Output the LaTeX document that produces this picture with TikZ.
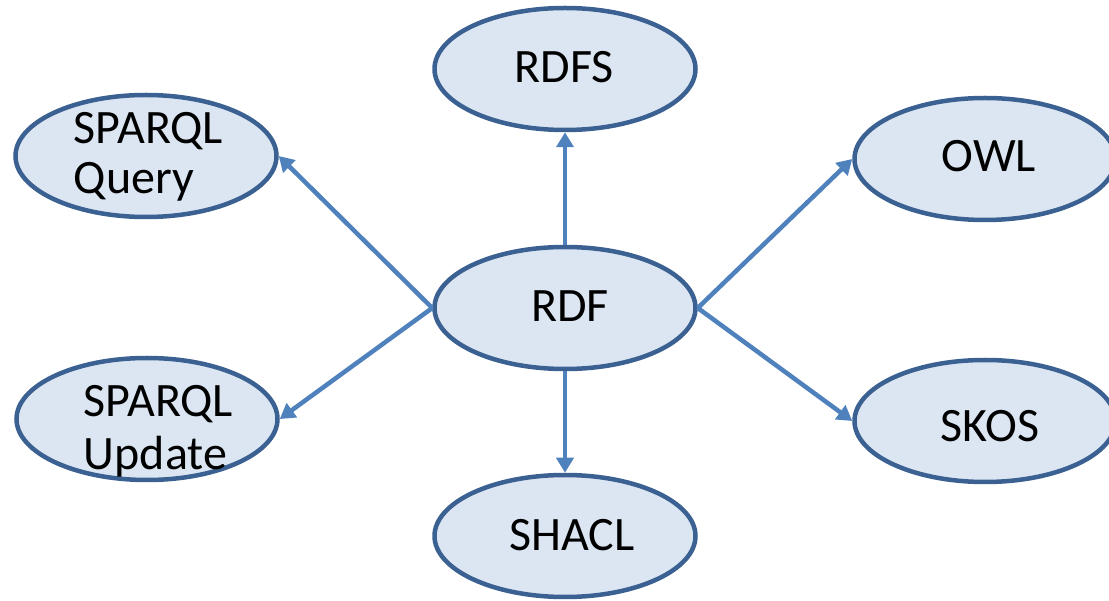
\documentclass[tikz,border=0pt]{standalone}
\usepackage{fontspec}
\setmainfont{Carlito}
\usetikzlibrary{shapes.geometric,arrows.meta}
\definecolor{ellfill}{HTML}{DCE6F2}
\definecolor{elldraw}{HTML}{3B6192}
\definecolor{arr}{HTML}{4F81BD}
\begin{document}
\begin{tikzpicture}[x=1pt,y=-1pt,
  ell/.style={ellipse,draw=elldraw,fill=ellfill,line width=4.5pt,minimum width=261pt,minimum height=122pt,inner sep=0pt},
  txt/.style={font=\fontsize{48}{50}\selectfont,inner sep=0pt,text=black},
  conn/.style={draw=arr,line width=4.5pt,-{Triangle[width=17pt,length=15pt]}}]
\useasboundingbox (0,0) rectangle (1109,601);
\begin{scope}
\clip (0,0) rectangle (1109,601);
\node[ell] (rdf) at (565,308) {};
\node[ell] (rdfs) at (565,69) {};
\node[ell] (sq) at (146,156) {};
\node[ell] (su) at (147,419) {};
\node[ell] (owl) at (985,159) {};
\node[ell] (skos) at (985,421) {};
\node[ell] (shacl) at (565,536) {};
\end{scope}
\node[txt,anchor=base] (trdf) at (570,322) {RDF};
\node[txt,anchor=base] (trdfs) at (564,83) {RDFS};
\node[txt,anchor=base] (towl) at (989,172) {OWL};
\node[txt,anchor=base] (tskos) at (990,442) {SKOS};
\node[txt,anchor=base] (tshacl) at (572,550) {SHACL};
\node[txt,align=left] (tsq) at (148.5,156.5) {SPARQL\\Query};
\node[txt,align=left,font=\fontsize{48}{53}\selectfont] (tsu) at (158.5,431) {SPARQL\\Update};
\draw[conn] (rdf.north) -- (rdfs.south);
\draw[conn] (rdf.south) -- (shacl.north);
\draw[conn] (rdf.west) -- (sq.east);
\draw[conn] (rdf.west) -- (su.east);
\draw[conn] (rdf.east) -- (owl.west);
\draw[conn] (rdf.east) -- (skos.west);
\end{tikzpicture}
\end{document}
